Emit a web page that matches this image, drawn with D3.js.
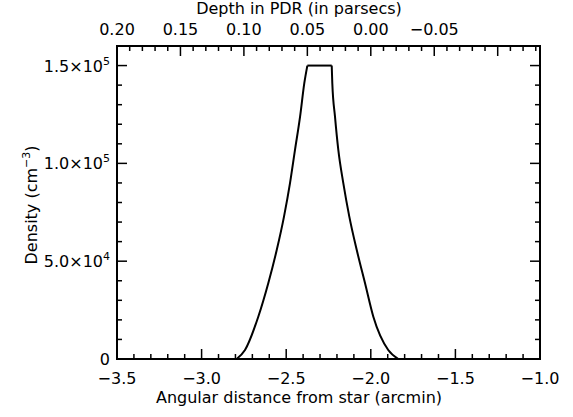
<!DOCTYPE html>
<html><head><meta charset="utf-8">
<script src="https://cdn.jsdelivr.net/npm/d3@7"></script>
<style>body{margin:0;background:#fff}svg{display:block}text{font-family:"DejaVu Sans",sans-serif;fill:#000}</style>
</head><body><svg id="c" width="573" height="417"></svg>
<script>
// Data
const angle = [-2.793,-2.7435,-2.665,-2.606,-2.556,-2.513,-2.4775,-2.448,-2.418,-2.393,-2.375,
               -2.231,-2.2275,-2.2116,-2.192,-2.1625,-2.127,-2.083,-2.034,-1.985,-1.897,-1.837];
const density = [0,4600,21600,38700,55700,72800,89900,106900,123900,141000,150000,
                 150000,141000,123900,106900,89900,72800,55700,38700,21600,4600,0];
const xTicks = [-3.5,-3.0,-2.5,-2.0,-1.5,-1.0];
const xTickLabels = ["\u22123.5","\u22123.0","\u22122.5","\u22122.0","\u22121.5","\u22121.0"];
const yTicks = [0,50000,100000,150000];
const yTickMant = ["0","5.0","1.0","1.5"];
const yTickExp = ["","4","5","5"];
const topTicks = [0.20,0.15,0.10,0.05,0.00,-0.05];
const topTickLabels = ["0.20","0.15","0.10","0.05","0.00","\u22120.05"];

const L=117,R=540,T=46,B=359;
const svg=d3.select("#c");
const x=d3.scaleLinear().domain([-3.5,-1.0]).range([L,R]);
const y=d3.scaleLinear().domain([0,160000]).range([B,T]);
const xt=d3.scaleLinear().domain([0.20,-0.20/1.5*1.0]).range([L,R]);

const g=svg.append("g");
const fs=16;
d3.range(-3.5,-0.999,0.1).forEach(v=>{
  const isMaj=Math.abs(v*2-Math.round(v*2))<1e-6;
  const len=isMaj?10:5;
  g.append("line").attr("x1",x(v)).attr("x2",x(v)).attr("y1",B).attr("y2",B-len).attr("stroke","#000").attr("stroke-width",1.5);
});
d3.range(0.20,-0.135,-0.01).forEach(v=>{
  const isMaj=Math.abs(v*20-Math.round(v*20))<1e-6;
  const len=isMaj?10:5;
  g.append("line").attr("x1",xt(v)).attr("x2",xt(v)).attr("y1",T).attr("y2",T+len).attr("stroke","#000").attr("stroke-width",1.5);
});
d3.range(0,160001,10000).forEach(v=>{
  const isMaj=v%50000===0;
  const len=isMaj?10:5;
  g.append("line").attr("x1",L).attr("x2",L+len).attr("y1",y(v)).attr("y2",y(v)).attr("stroke","#000").attr("stroke-width",1.5);
  g.append("line").attr("x1",R).attr("x2",R-len).attr("y1",y(v)).attr("y2",y(v)).attr("stroke","#000").attr("stroke-width",1.5);
});
g.append("rect").attr("x",L).attr("y",T).attr("width",R-L).attr("height",B-T).attr("fill","none").attr("stroke","#000").attr("stroke-width",2);

xTicks.forEach((v,i)=>{
  g.append("text").attr("x",x(v)).attr("y",384).attr("text-anchor","middle").attr("font-size",fs).text(xTickLabels[i]);
});
topTicks.forEach((v,i)=>{
  g.append("text").attr("x",xt(v)).attr("y",35).attr("text-anchor","middle").attr("font-size",fs).text(topTickLabels[i]);
});
yTicks.forEach((v,i)=>{
  const t=g.append("text").attr("x",110).attr("y",y(v)+6).attr("text-anchor","end").attr("font-size",fs);
  if(yTickExp[i]===""){t.text(yTickMant[i]);}
  else{
    t.append("tspan").text(yTickMant[i]+"\u00d710");
    t.append("tspan").attr("dy",-7).attr("font-size",11).text(yTickExp[i]);
  }
});
g.append("text").attr("x",299).attr("y",403).attr("text-anchor","middle").attr("font-size",fs).text("Angular distance from star (arcmin)");
g.append("text").attr("x",299).attr("y",14).attr("text-anchor","middle").attr("font-size",fs).text("Depth in PDR (in parsecs)");
const yl=g.append("text").attr("transform","translate(37,205) rotate(-90)").attr("text-anchor","middle").attr("font-size",fs);
yl.append("tspan").text("Density (cm");
yl.append("tspan").attr("dy",-7).attr("font-size",11).text("\u22123");
yl.append("tspan").attr("dy",7).text(")");

// curve: rising flank, flat top, falling flank
const pts=angle.map((a,i)=>[a,density[i]]);
const line=d3.line().x(d=>x(d[0])).y(d=>y(d[1])).curve(d3.curveMonotoneX);
const iTop=density.indexOf(150000);
const iTopEnd=density.lastIndexOf(150000);
[pts.slice(0,iTop+1),pts.slice(iTop,iTopEnd+1),pts.slice(iTopEnd)].forEach(seg=>{
  g.append("path").datum(seg).attr("fill","none").attr("stroke","#000").attr("stroke-width",2).attr("stroke-linejoin","miter").attr("d",line);
});
</script></body></html>
